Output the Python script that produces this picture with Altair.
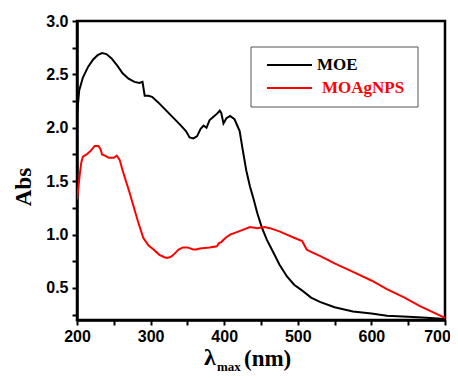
import altair as alt
import pandas as pd

moe_wl = [200, 203, 208, 215, 222, 228, 234, 240, 247, 255, 262, 270, 278, 285, 289, 292, 297, 302,
          310, 320, 330, 340, 348, 353, 358, 363, 368, 372, 376, 380, 385, 390, 394, 396, 399, 403,
          408, 414, 421, 425, 430, 435, 440, 445, 451, 458, 467, 475, 485, 495, 507, 518, 530, 550,
          575, 600, 621, 650, 675, 700]
moe_abs = [2.12, 2.35, 2.47, 2.57, 2.64, 2.68, 2.70, 2.69, 2.65, 2.58, 2.51, 2.46, 2.43, 2.42, 2.43,
           2.30, 2.30, 2.29, 2.24, 2.17, 2.10, 2.03, 1.97, 1.91, 1.90, 1.92, 1.99, 2.02, 2.00, 2.07,
           2.10, 2.13, 2.16, 2.14, 2.04, 2.09, 2.11, 2.08, 1.97, 1.80, 1.60, 1.45, 1.33, 1.20, 1.07,
           0.95, 0.83, 0.72, 0.61, 0.53, 0.47, 0.41, 0.37, 0.32, 0.28, 0.26, 0.24, 0.23, 0.22, 0.21]

ag_wl = [200, 202, 204, 206, 208, 213, 218, 224, 229, 232, 234, 238, 243, 250, 254, 258, 262, 267,
         272, 277, 283, 290, 297, 304, 312, 318, 322, 327, 331, 338, 344, 350, 358, 362, 367, 380,
         390, 393, 396, 402, 408, 420, 435, 445, 455, 462, 475, 485, 495, 506, 509, 512, 520, 530,
         550, 575, 600, 621, 645, 666, 700]
ag_abs = [1.33, 1.45, 1.58, 1.68, 1.73, 1.75, 1.78, 1.83, 1.83, 1.80, 1.75, 1.74, 1.72, 1.72, 1.74,
          1.70, 1.60, 1.49, 1.38, 1.26, 1.12, 0.97, 0.90, 0.86, 0.81, 0.79, 0.78, 0.79, 0.81, 0.86,
          0.88, 0.88, 0.86, 0.86, 0.87, 0.88, 0.89, 0.92, 0.93, 0.97, 1.00, 1.03, 1.07, 1.06, 1.07,
          1.06, 1.03, 1.00, 0.97, 0.94, 0.90, 0.86, 0.83, 0.80, 0.73, 0.65, 0.57, 0.49, 0.41, 0.33,
          0.22]

series_names = ["MOE", "MOAgNPS"]
series_colors = ["#000000", "#ff0000"]

x_ticks = [200, 250, 300, 350, 400, 450, 500, 550, 600, 650, 700]
y_ticks = [0.25, 0.5, 0.75, 1.0, 1.25, 1.5, 1.75, 2.0, 2.25, 2.5, 2.75, 3.0]

df = pd.concat([
    pd.DataFrame({"wl": moe_wl, "abs": moe_abs, "series": series_names[0], "order": range(len(moe_wl))}),
    pd.DataFrame({"wl": ag_wl, "abs": ag_abs, "series": series_names[1], "order": range(len(ag_wl))}),
])

W, H = 368, 299
one = pd.DataFrame({"a": [0]})

lines = alt.Chart(df).mark_line(strokeWidth=2, clip=True).encode(
    x=alt.X("wl:Q", scale=alt.Scale(domain=[200, 700], nice=False),
            axis=alt.Axis(values=x_ticks, labelExpr="datum.value % 100 == 0 ? datum.label : ''",
                          labelOffset={"condition": {"test": "datum.value == 700", "value": -8}, "value": 0},
                          title=None, grid=False)),
    y=alt.Y("abs:Q", scale=alt.Scale(domain=[0.2, 3.0], nice=False, zero=False),
            axis=alt.Axis(values=y_ticks, format=".1f",
                          labelExpr="round(datum.value * 4) % 2 == 0 ? datum.label : ''",
                          title=None, grid=False)),
    color=alt.Color("series:N", scale=alt.Scale(domain=series_names, range=series_colors), legend=None),
    order="order:Q",
    detail="series:N",
)

box = alt.Chart(one).mark_rect(fill="white", stroke="#555555", strokeWidth=1).encode(
    x=alt.value(174), x2=alt.value(341), y=alt.value(26), y2=alt.value(86))
leg1 = alt.Chart(one).mark_rule(color="black", strokeWidth=2).encode(
    x=alt.value(190), x2=alt.value(235), y=alt.value(44))
leg2 = alt.Chart(one).mark_rule(color="red", strokeWidth=2).encode(
    x=alt.value(190), x2=alt.value(235), y=alt.value(67))
txt_style = dict(font="Liberation Serif", fontWeight="bold", fontSize=17, align="left", baseline="middle")
t1 = alt.Chart(one).mark_text(color="black", **txt_style).encode(
    x=alt.value(240), y=alt.value(44), text=alt.value("MOE"))
t2 = alt.Chart(one).mark_text(color="red", **txt_style).encode(
    x=alt.value(245), y=alt.value(67), text=alt.value("MOAgNPS"))

title_style = dict(font="Liberation Serif", fontWeight="bold", color="black", align="left")
xt1 = alt.Chart(one).mark_text(fontSize=24, baseline="alphabetic", **title_style).encode(
    x=alt.value(127), y=alt.value(344), text=alt.value("λ"))
xt2 = alt.Chart(one).mark_text(fontSize=13, baseline="alphabetic", **title_style).encode(
    x=alt.value(140), y=alt.value(350), text=alt.value("max"))
xt3 = alt.Chart(one).mark_text(fontSize=23, baseline="alphabetic", **title_style).encode(
    x=alt.value(167), y=alt.value(345), text=alt.value("(nm)"))
yt = alt.Chart(one).mark_text(fontSize=23, baseline="middle", angle=270, font="Liberation Serif",
                              fontWeight="bold", color="black", align="center").encode(
    x=alt.value(-53), y=alt.value(166), text=alt.value("Abs"))

chart = alt.layer(lines, box, leg1, leg2, t1, t2, xt1, xt2, xt3, yt).properties(
    width=W, height=H,
    autosize=alt.AutoSizeParams(type="none"),
    padding={"left": 69, "top": 13, "right": 5, "bottom": 54},
).configure_view(stroke="black", strokeWidth=2.5).configure_axis(
    domainColor="black", domainWidth=2.5, tickColor="black", tickWidth=2, tickSize=5,
    labelFont="Liberation Sans", labelFontWeight="bold", labelFontSize=16, labelColor="black",
    labelPadding=3, labelFlush=False, labelOverlap=False,
).configure_axisY(labelPadding=4)

chart.save("out.html", embed_options={"renderer": "svg", "actions": False})
